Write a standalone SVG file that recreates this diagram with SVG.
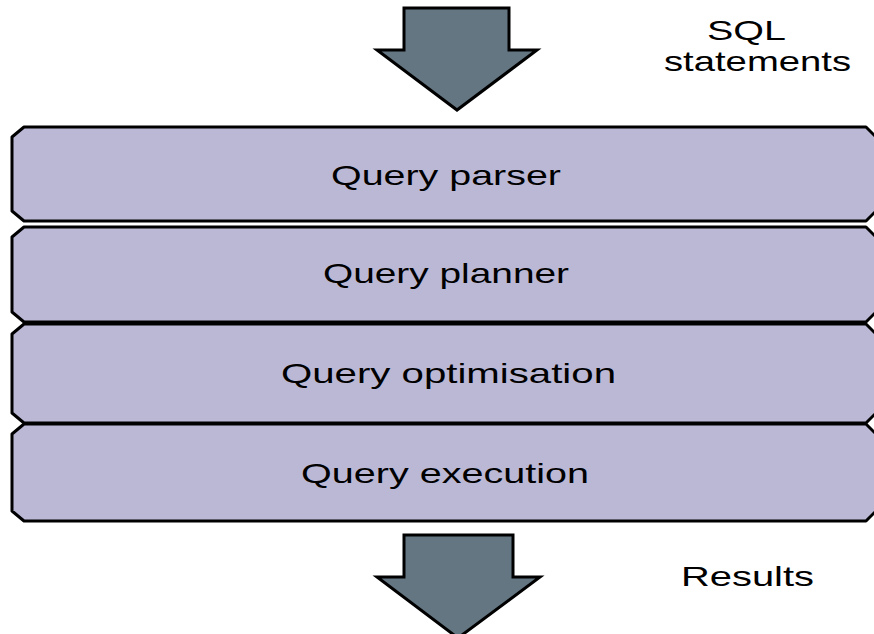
<svg xmlns="http://www.w3.org/2000/svg" width="874" height="634" viewBox="0 0 874 634">
<style>
.box{fill:#bbb8d6;stroke:#000;stroke-width:3;stroke-linejoin:round}
.arrow{fill:#647682;stroke:#000;stroke-width:3;stroke-linejoin:miter}
.t{font-family:"Liberation Sans",Arial,sans-serif;font-size:28px;fill:#000}
</style>
<rect x="0" y="0" width="874" height="634" fill="#fff"/>
<g id="connectors">
<polygon class="arrow" points="404,8 509,8 509,50 537,50 457,110 377,50 404,50"/>
<polygon class="arrow" points="404,535 513,535 513,577 540,577 458,638 377,577 404,577"/>
</g>
<g id="node-parser">
<path class="box" d="M24,127 H866 L876,137 V211 L866,221 H24 L12,211 V137 Z"/>
<text class="t" x="331" y="185" textLength="230" lengthAdjust="spacingAndGlyphs">Query parser</text>
</g>
<g id="node-planner">
<path class="box" d="M24,227 H866 L876,237 V312 L866,322 H24 L12,312 V237 Z"/>
<text class="t" x="323" y="283" textLength="246" lengthAdjust="spacingAndGlyphs">Query planner</text>
</g>
<g id="node-optimisation">
<path class="box" d="M24,324 H866 L876,334 V413 L866,423 H24 L12,413 V334 Z"/>
<text class="t" x="281" y="383" textLength="335" lengthAdjust="spacingAndGlyphs">Query optimisation</text>
</g>
<g id="node-execution">
<path class="box" d="M24,424 H866 L876,434 V511 L866,521 H24 L12,511 V434 Z"/>
<text class="t" x="301" y="483" textLength="288" lengthAdjust="spacingAndGlyphs">Query execution</text>
</g>
<g id="labels">
<text class="t" x="707" y="40" textLength="79" lengthAdjust="spacingAndGlyphs">SQL</text>
<text class="t" x="664" y="71" textLength="187" lengthAdjust="spacingAndGlyphs">statements</text>
<text class="t" x="681" y="586" textLength="133" lengthAdjust="spacingAndGlyphs">Results</text>
</g>
</svg>
